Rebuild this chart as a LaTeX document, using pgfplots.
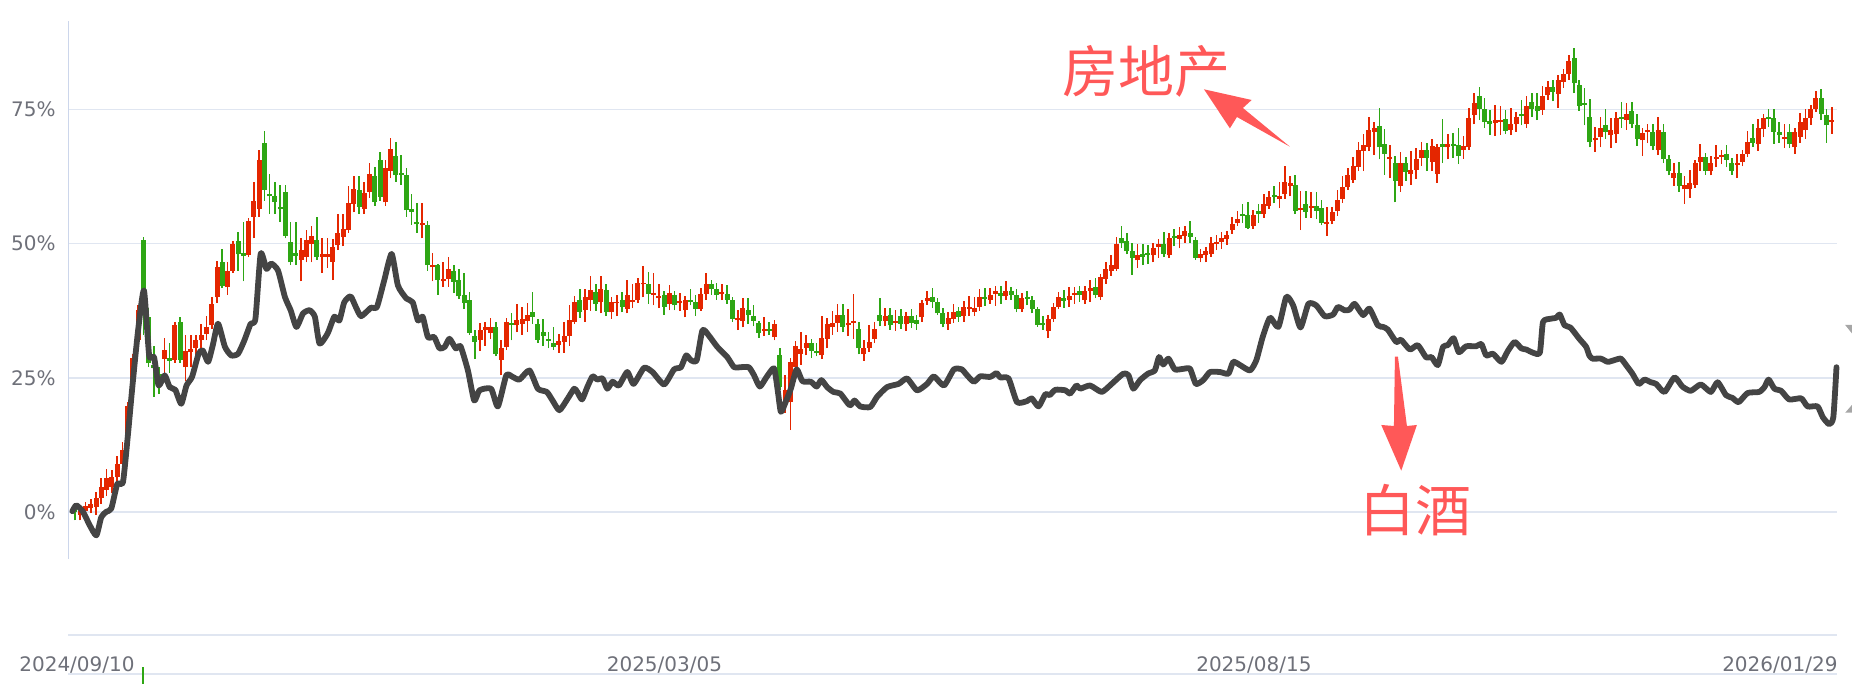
\documentclass[border=0pt]{standalone}
\usepackage{pgfplots}
\pgfplotsset{compat=1.18}
\usepackage{pgfplotstable}
\usepackage{fontspec}
\setmainfont{DejaVu Sans}
\newfontfamily\cjk{Noto Sans CJK SC}
\definecolor{upc}{RGB}{228,38,0}
\definecolor{dnc}{RGB}{46,166,20}
\definecolor{lnc}{RGB}{68,68,68}
\definecolor{gridc}{RGB}{224,230,241}
\definecolor{labc}{RGB}{110,112,121}
\definecolor{annc}{RGB}{255,88,88}
\definecolor{axc}{RGB}{204,214,235}

% candles: day index, body low/high, wick low/high (%)
\pgfplotstableread{
k lo hi wl wh
1 -0.5 0.3 -1.5 1.2
2 0.3 1.2 -0.5 2
3 0.8 1.6 -0.2 2.5
4 1.0 2.7 -0.5 3.7
5 2.6 4.7 1.5 6.3
6 4.2 6.3 3 8
7 4.7 6.5 3.5 7.8
8 6.5 9.0 5.6 10.5
9 9.0 11.6 8.5 13
10 14 19.8 11.5 20.5
11 23.9 28.7 23 29.5
12 32 37.6 31 38.5
17 28.5 30.2 26 32.5
19 28.3 34.8 27.8 35.5
21 27 30 24.5 33
22 29.8 30.3 27 33
23 30.5 32 28.5 33
24 32 33 30 35
25 33.2 34.5 32 36.5
26 34.8 38.8 34.2 40
27 40 45.7 39 46.8
29 41.9 45 40.5 46.5
30 45 49.9 44.5 50.5
33 47.8 54.3 47.5 54.8
34 55 58 51 61.5
35 56.5 65.5 55 67.5
43 47 48.8 43 51
44 47.5 50.7 46.5 52.5
45 50 51.4 46.5 53.2
47 47.5 48 44.5 51
48 47.5 48.1 45.5 51
49 46.6 49.4 43.2 50.8
50 49.7 52 48.8 55.5
51 51.2 52.8 49.5 55.5
52 52.5 57.6 52 60.8
53 57.4 60.2 55.8 62.5
55 56.5 59.5 55.5 61.5
56 59.6 62.9 58.5 65
59 57.7 64.1 57 65.6
60 63.6 67.7 62.2 69.7
66 53.4 53.8 51 57.5
68 45.6 46 43 48.2
70 43 43.5 42 46.5
71 43.5 45.2 42 47.5
77 32.1 33.9 30 35.2
78 34 34.5 31 35.5
79 33.4 34.4 32.2 36.2
81 28.3 30.5 25.5 32
82 30.8 35.4 30.2 36.1
84 34.8 35.7 33.5 38.8
85 35 36 33 38.2
86 35.6 36.8 33.6 39
92 31.1 31.9 29.7 33.2
93 31.7 32.8 29.7 35.5
94 32.8 35.7 31 38.5
95 35.4 39.1 35 40.3
97 37.6 40 35.5 41.5
98 39.5 41.3 37.5 44
100 39.1 41.6 37 44
102 37.2 39.1 36 40
103 38.9 39.1 36.5 40.5
105 37.9 40.4 37 43.2
106 39.1 39.5 38 42.5
107 39.5 42.7 39 43.6
108 42.4 42.7 40 45.8
110 40.4 40.8 38.5 44.5
111 39.8 40.2 38 42.5
113 38.8 40.9 37.6 42.3
115 38.9 39.3 37.5 40.8
116 37.6 39.6 36.3 40.2
119 37.9 40.7 37.5 41.8
120 40.7 42.4 39.5 44.5
123 40.6 41 39.5 42.5
126 35.7 36.1 33.9 37.6
127 35.6 38.1 34.4 39.8
131 33.8 34.2 32.8 36.4
133 32.6 35.1 32 35.8
135 20.5 22.7 18.5 25.5
136 20.5 28 15.3 28.8
137 27 30.9 26.5 31.8
138 29.5 30.3 27.5 33.5
139 30.6 31.5 29.2 33
142 29.2 32.5 28.5 36.5
143 32.3 35.1 30.5 36.2
144 34.4 35.2 33 37.5
145 35.2 36.8 33.6 38.8
147 34.8 35.2 32.8 37.9
148 35.2 35.6 32.2 40.6
150 29.4 30.6 28.2 32
151 30.6 31.7 29.8 34.8
152 32.3 34.2 31.5 35.5
154 35.6 36.5 34.6 38.1
156 35.2 35.6 33.8 37.6
158 35 36.5 33.8 37.3
161 36.3 39 35.5 39.6
162 39.4 39.8 38.6 41.1
166 35 36.1 34 37.3
167 36 37.3 35.2 38.8
169 36.5 38.3 35.5 39.3
170 37.9 38.3 36.5 40.2
171 37.3 38.1 36.5 40
172 38.2 40 37.5 41.6
174 39.6 40.4 38.8 41.7
175 40.7 41.1 38.4 42.2
177 40.2 41.2 39.5 43
180 37.8 39.9 37.3 40.9
185 33.7 36 32.4 36.8
186 35.9 38.3 35.5 38.9
187 38.2 40 37.8 41
189 39.5 40.2 38.3 42
190 40.4 40.8 38.8 42
192 39.5 41.2 38.8 42.2
193 41.2 41.8 39.2 43.3
195 40.1 43.7 39.5 44.4
196 43.5 45.2 42.5 46.5
197 45 46 44 47.8
198 45.3 49.9 45 51.3
202 46.9 47.8 45.5 49.9
205 47.8 49.1 46.5 50.1
206 49.4 49.9 47.4 50.8
208 47.8 51.1 47.3 52
210 50.9 51.6 49.1 53.1
211 51.4 52.4 50.2 53.3
214 47.4 48 46.5 49
215 47.8 48.6 46.5 49.4
216 48.1 50.1 47.5 51.2
217 49.9 50.4 48.8 51.6
218 50.3 51.1 49 52.1
219 50.9 51.7 49.8 52.3
220 52.5 53.6 51.8 55
221 53.8 54.6 53.3 56.1
224 53.2 55.3 52.8 56.2
226 55.6 57.3 54.8 59.3
227 57.1 58.6 56.5 59.8
229 58.4 58.8 56.6 61.5
230 59.2 61.5 58.4 64.5
231 60.8 61.2 58.8 62.5
233 56.2 56.6 52.5 59.8
235 56.6 57 54.8 59.6
238 53.6 54 51.5 56.9
239 54.3 55.9 53.6 56.9
240 56.1 58.2 55.2 60
241 58.4 60.5 57.6 62.5
242 60.5 62.8 60 64
243 61.9 64.4 61.3 66.2
244 64.3 67.4 63.5 69
245 67.2 68.3 63.5 70.4
246 68 71.2 67.2 73.5
247 70.8 71.6 66.5 72.7
250 65.7 66.1 62.2 68.3
252 60.7 65.1 59.7 67
254 63 63.8 61 67.2
255 63.8 65.8 62 67.8
256 65.9 67.4 64.5 69
258 65.2 68.1 63.5 69.4
259 63 67.9 61.3 68.5
261 67.9 68.6 65.7 70.5
264 67.4 68.2 65.8 70
265 67.9 73.3 67.5 75.3
266 73.9 76.2 72.2 78
270 72.5 73 70 75.8
271 72.6 73 70.2 75.6
273 71.2 72.2 70.2 75.2
274 72.2 73.6 70.8 74.5
276 72.3 75.7 71.5 77.5
279 74.8 77.4 74 79.3
280 77.6 79.2 76.8 80.3
282 77.9 80.4 75.3 81.3
283 80.1 81.5 79 82.6
284 81.5 84 80.5 85.2
289 69.2 69.6 67.1 71.8
290 69.9 71.6 67.9 73.5
292 70.2 71.1 67.8 73.3
293 70.5 73.3 68.7 74.5
295 73 74.2 71.2 76.2
298 69.2 70.6 66.3 71.6
299 70.8 71.2 68.7 72.3
301 67.5 71.1 66.5 73.6
304 62.3 63.2 60.8 65
306 60.1 60.9 57.4 62.5
307 60.1 61.3 58.5 63.7
308 61 65.1 60.4 65.5
309 65.2 66.1 63.6 68.5
311 63.6 65.1 62.7 66.3
312 65.8 66.2 64.2 68.4
313 66.1 66.5 64.8 67.4
316 64.7 65.1 62.2 66.7
317 65.2 66.7 64.4 67.5
318 66.7 69 66.2 70.9
320 68.5 71.6 67.3 73.2
321 71.4 73.3 69.8 74.2
325 69.5 69.9 67.8 72.2
327 67.9 70.8 66.7 71.6
328 69.9 72.7 68.7 74.3
329 71.1 73.3 69.5 75.1
330 73.3 75.1 72.1 75.8
331 75.1 77.2 74.5 78.4
334 72.6 73 70.5 75.5
}\upT

\pgfplotstableread{
k lo hi wl wh
0 0 0.8 -1.5 1.5
13 41.3 50.6 33 51.3
14 27.7 36.4 27 38
15 26.8 27.5 21.5 31
16 24.5 25.8 22 27
18 28.2 28.8 26 31.5
20 28.3 35.4 27.8 36.3
28 42.2 46.6 41.7 49
31 48 50.5 45 52.2
32 47.7 48.3 43 54
36 60 68.7 58 71
37 58.8 59.2 55.5 63
38 57.8 58.9 55.5 61.5
39 56.4 56.9 54 61
40 51.5 59.6 51 61
41 46.5 50.3 46 54
42 47.7 48.3 46 54
46 47.5 50.7 47 55
54 56.8 60 55.5 62.5
57 57.8 62.5 57 64.3
58 58.7 65.5 58 67
61 62.7 66.4 61.5 69
62 62.8 63.2 61 66.5
63 56.2 62.8 55 64
64 55.9 56.5 53.5 59.3
65 53.6 54 52 57.5
67 46 53.4 45 54.2
69 43.2 46 40.5 46.3
72 42.9 44.9 40.8 46
73 40.2 43.3 39.7 45.2
74 39 40.4 37.8 44.5
75 33.4 39.5 33 41
76 31.7 32.9 28.5 34
80 29.5 34.5 29 35.5
83 34.8 35.2 32 37
87 36.4 37.2 35 41
88 32.1 35.1 31.5 36
89 32.8 33.6 31 36
90 31.9 32.3 30.5 33.5
91 30.8 31.5 30.2 34.5
96 37.3 39.6 36.2 41.5
99 38.8 41 37.5 42.5
101 37.2 41.3 36.5 42.5
104 38.2 39.6 37.2 41
109 40.6 42.4 38.8 44.8
112 38.3 40.4 36.8 41.2
114 38.5 40.4 37.6 41.2
117 39.1 39.6 38.5 41.5
118 37.9 39.1 36.5 40.5
121 41.5 42.4 40.5 43.3
122 40.5 41.6 39.6 42.6
124 39.5 40.7 38.8 42.3
125 36 39.5 35.5 40
128 36.7 37.7 35 39.8
129 35.6 36.5 34.6 38.5
130 33.4 35.2 32.5 35.6
132 33.8 34.2 33 35.5
134 23.3 29.2 22.8 30.6
140 30 31.5 28.8 32.3
141 29.6 30.1 29 31.5
146 34.5 36.8 33.5 38.8
149 30.5 34.2 29.4 35.5
153 35.6 36.8 34.6 39.8
155 34.8 36.8 34 38
157 35.1 36.5 34.2 37.8
159 35.2 36.5 34.3 37.8
160 35 35.7 34 36.8
163 39.1 40.1 38 41.7
164 37 39.1 36.8 39.8
165 35 37.1 34.4 38
168 36.4 37.5 35.5 38.3
173 39.7 40.1 38.4 41.7
176 40.3 40.9 38.8 42.2
178 40.4 41.2 39.6 41.9
179 37.8 40.4 37.2 41.5
181 39.7 40.1 38.5 41.1
182 37.8 39.6 37 40.2
183 34.9 37.8 34.5 38.2
184 34.8 35.2 34 36.5
188 39.4 39.8 38 41.3
191 40.4 41.2 39.2 42.2
194 40.4 41.9 39.8 43.6
199 50.2 51 49.2 53.3
200 48.6 50.5 48 52
201 47.4 48.6 44.2 50.1
203 47.6 48 46 49.9
204 47.9 48.3 46.2 49.7
207 48.1 49.9 47.5 52.2
209 51 51.4 49.5 52.8
212 51.2 52 50.2 54.2
213 47.4 50.7 47 51.2
222 55.1 55.5 53.8 57.4
223 53 55.3 52.7 57.7
225 55.6 56 53.9 57.4
228 58.7 59.1 57.5 60.8
232 56.1 60.9 55.5 62.8
234 55.9 57.4 54.8 59.8
236 56.1 57 54.5 59.6
237 53.8 56.7 53.4 58.2
248 67.9 71.9 65.7 75.2
249 66.7 68.6 62.8 71.3
251 61.7 65.1 57.7 66.3
253 63.3 65.1 61.7 66.2
257 66 67.4 63.5 68.7
260 67.9 68.6 65 73.2
262 68.2 68.6 66 70.6
263 66.3 68.3 64.8 71.5
267 75.1 77.4 73 79.2
268 72.6 75.1 71.5 77.2
269 72.2 72.9 70.2 74.8
272 71 73.2 70.4 74.8
275 73.7 74.2 72 76.8
277 75.1 76.4 73.6 78
278 74.7 75.6 73 78
281 78.2 79.2 76.5 80.5
285 79.9 84.6 78 86.5
286 75.7 79.5 74.7 80.5
287 75.8 76.2 72 79
288 68.9 73.5 67.9 76.9
291 70.8 72 69.5 75.1
294 73.2 73.6 71.5 76.4
296 72.2 74.6 71.5 76.3
297 69.5 72 68.2 74.1
300 68.2 70.8 67.4 72.2
302 65.7 70.8 65 72.3
303 63.5 65.7 62.7 66.5
305 60.7 63.2 59.7 65.2
310 63.6 66.1 62.8 66.8
314 65.6 66.7 64.2 68.4
315 63.6 65.1 62.8 66
319 68.8 69.7 68 72.3
322 73.2 73.6 71.8 75.1
323 70.8 73.3 68.6 75.1
324 70.2 70.8 68.8 72.6
326 68.5 70.8 67.8 72.2
332 74.1 77.2 73 78.8
333 72 73.9 68.8 75.1
}\dnT

% baijiu line
\pgfplotstableread{
k v
-0.5 0.2
0.25 1.3
1.52 0.1
2.79 -2.4
4.06 -4.3
5.0 -0.9
5.96 0.1
6.9 0.7
8.05 5.3
9.12 5.6
10.08 14.6
10.9 23.3
12.0 33.9
13.11 41.3
14.1 29.2
15.02 28.9
15.9 23.6
17.05 25.5
18.0 23.3
19.07 22.8
20.2 20.2
21.2 23.6
22.25 25.2
23.5 29.5
24.3 30.1
25.3 28.0
26.2 31.1
27.2 35.1
28.5 30.8
29.7 29.2
31.0 29.5
32.2 32.0
33.4 35.1
34.3 36.0
35.3 48.1
36.4 45.3
37.3 46.3
38.6 45.0
39.9 40.1
41.0 37.6
42.1 34.5
43.35 37.0
44.6 37.6
45.6 36.4
46.5 31.4
48.04 33.3
49.3 36.4
50.26 35.7
51.2 39.1
52.4 40.2
53.4 38.2
54.4 36.5
56.3 38.1
57.4 38.2
58.8 43.2
60.2 48.1
61.4 42.2
63.0 39.8
64.2 39.1
65.2 35.7
66.1 36.4
67.1 32.6
68.3 32.6
69.3 30.5
70.3 30.8
71.2 32.3
72.4 30.5
73.3 30.9
74.7 26.4
75.9 20.8
76.9 22.7
79.1 23.0
80.4 19.7
82.0 25.5
83.2 25.2
84.5 24.7
86.4 26.4
88.0 23.0
89.7 22.4
90.8 20.8
92.1 19.0
93.7 21.2
94.9 23.0
95.5 22.4
96.4 21.0
97.4 23.3
98.4 25.3
99.3 24.7
100.3 24.9
101.2 23.0
102.2 24.3
103.4 23.6
105.0 26.1
106.2 23.9
108.2 26.9
109.8 26.1
112.0 23.8
113.9 26.6
115.2 27.0
116.2 29.2
117.1 28.3
118.2 28.3
119.3 33.9
120.5 32.9
122.1 30.8
124.0 28.9
125.3 27.0
126.5 27.0
128.1 27.0
129.1 25.5
130.2 23.4
131.5 25.2
132.9 26.8
133.6 22.7
134.2 18.7
135.1 20.5
136.1 23.0
137.2 26.6
138.3 24.4
139.9 24.3
141.0 23.4
141.9 24.6
143.0 23.3
144.2 22.4
145.5 22.1
147.3 19.9
148.2 20.8
149.3 19.7
151.2 19.6
152.5 21.5
154.4 23.3
156.6 23.9
158.2 24.9
160.1 22.7
162.0 23.9
163.3 25.3
165.2 23.6
167.1 26.6
168.6 26.6
169.6 25.5
170.9 24.3
172.1 25.3
174.0 25.2
175.2 25.9
175.9 25.1
177.5 24.9
179.1 20.5
181.0 20.7
181.9 21.2
183.2 19.7
184.5 22.0
185.3 21.8
186.4 22.8
188.3 22.7
189.2 22.1
190.4 23.6
191.1 23.0
193.0 23.6
195.2 22.4
197.1 23.9
199.3 25.8
200.3 25.5
201.2 23.0
202.5 24.6
204.0 25.8
205.3 26.4
206.1 28.9
206.9 27.5
207.9 28.6
209.1 26.6
210.7 26.7
212.0 26.7
213.1 23.9
214.5 24.6
215.8 26.1
217.7 26.1
219.3 25.8
220.2 28.0
221.5 27.4
223.4 26.4
224.6 28.3
225.8 32.6
227.2 36.2
228.8 34.5
230.3 40.1
231.6 38.5
233.0 34.4
234.5 38.8
236.0 38.5
237.6 36.5
239.2 36.8
240.1 38.2
241.4 37.6
242.3 37.7
243.3 38.8
244.9 36.7
246.1 37.9
247.7 34.8
248.7 34.5
249.6 34.0
251.2 31.7
252.1 32.1
253.8 30.3
255.3 31.1
256.9 28.8
257.9 28.9
259.1 27.4
260.1 30.8
261.0 31.1
262.1 32.4
263.1 29.8
264.5 30.9
266.4 30.9
267.4 31.3
268.3 29.2
269.6 29.5
271.2 28.0
272.4 30.0
273.7 31.7
275.0 30.5
275.9 30.3
277.2 29.7
278.5 29.7
279.1 35.4
280.4 36.0
281.6 36.2
282.3 36.8
283.2 34.8
284.3 34.4
286.0 32.3
287.3 30.8
287.9 29.2
288.5 28.6
290.1 28.6
291.4 28.0
292.6 28.3
293.9 28.6
294.9 27.4
296.1 25.8
297.3 23.9
298.4 24.7
299.6 24.2
300.6 23.9
302.2 22.4
304.1 25.1
305.6 23.4
307.2 22.6
309.1 23.8
311.0 22.4
312.3 24.2
313.9 21.8
315.1 21.3
316.3 20.5
318.0 22.2
320.2 22.4
321.2 23.3
322.0 24.7
323.1 23.0
324.4 22.6
325.9 21.0
328.2 21.2
329.4 19.7
331.3 19.7
332.3 17.7
333.5 16.4
334.3 17.7
334.9 27.0
}\lineT

\begin{document}
\begin{tikzpicture}
\begin{axis}[
    name=ax, at={(0,0)}, anchor=south west,
    scale only axis, width=884.25pt, height=342pt,
    xmin=-1.236, xmax=335.0, ymin=-31.96, ymax=95.35,
    axis line style={draw=none},
    xtick=\empty,
    ytick={0,25,50,75},
    yticklabels={0\%,25\%,50\%,75\%},
    yticklabel style={font=\fontsize{10}{12}\selectfont, text=labc, anchor=east, inner sep=0pt, xshift=-6.25pt},
    major tick length=0pt,
    ymajorgrids, grid style={gridc, line width=0.8pt},
    extra y ticks={-22.84,-30.1}, extra y tick labels={},
    extra y tick style={grid=major},
    clip=false,
]
% y axis line
\draw[axc, line width=0.8pt] (axis cs:-1.236,91.44) -- (axis cs:-1.236,-8.69);

% wicks
\addplot[draw=none, forget plot, error bars/.cd, y dir=plus, y explicit, error mark=none,
    error bar style={draw=upc, line width=0.8pt}]
    table[x=k, y=wl, y error expr=\thisrow{wh}-\thisrow{wl}] {\upT};
\addplot[draw=none, forget plot, error bars/.cd, y dir=plus, y explicit, error mark=none,
    error bar style={draw=dnc, line width=0.8pt}]
    table[x=k, y=wl, y error expr=\thisrow{wh}-\thisrow{wl}] {\dnT};
% bodies
\addplot[draw=none, forget plot, error bars/.cd, y dir=plus, y explicit, error mark=none,
    error bar style={draw=upc, line width=2.5pt}]
    table[x=k, y=lo, y error expr=\thisrow{hi}-\thisrow{lo}] {\upT};
\addplot[draw=none, forget plot, error bars/.cd, y dir=plus, y explicit, error mark=none,
    error bar style={draw=dnc, line width=2.5pt}]
    table[x=k, y=lo, y error expr=\thisrow{hi}-\thisrow{lo}] {\dnT};
% volume bar peeking out at the bottom
\addplot[draw=none, forget plot, error bars/.cd, y dir=plus, y explicit, error mark=none,
    error bar style={draw=dnc, line width=1pt}]
    coordinates {(13,-31.96) +- (0,3.2)};

% baijiu
\addplot[lnc, line width=2.9pt, smooth, tension=0.35, line join=round, line cap=round]
    table[x=k, y=v] {\lineT};

% x labels
\node[font=\fontsize{10}{12}\selectfont, text=labc, inner sep=0pt] at (axis cs:0.38,-28.42) {2024/09/10};
\node[font=\fontsize{10}{12}\selectfont, text=labc, inner sep=0pt] at (axis cs:112.07,-28.42) {2025/03/05};
\node[font=\fontsize{10}{12}\selectfont, text=labc, inner sep=0pt] at (axis cs:224.14,-28.42) {2025/08/15};
\node[font=\fontsize{10}{12}\selectfont, text=labc, inner sep=0pt] at (axis cs:324.14,-28.42) {2026/01/29};

% annotations
\node[font=\cjk\fontsize{28}{30}\selectfont, text=annc, inner sep=0pt] at (axis cs:203.7,82.0) {房地产};
\fill[annc] (axis cs:214.64,78.73) -- (axis cs:223.71,76.74) -- (axis cs:222.05,75.25)
    -- (axis cs:230.99,68.04) -- (axis cs:220.91,73.58) -- (axis cs:219.58,71.47) -- cycle;
\node[font=\cjk\fontsize{28}{30}\selectfont, text=annc, inner sep=0pt] at (axis cs:254.85,0.33) {白酒};
\fill[annc] (axis cs:250.95,28.96) -- (axis cs:251.52,28.96) -- (axis cs:253.23,16.06)
    -- (axis cs:255.13,16.25) -- (axis cs:252.15,7.74) -- (axis cs:248.35,16.25)
    -- (axis cs:250.76,16.06) -- cycle;

% zoom handles at the right edge
\fill[black!35] (axis cs:336.56,34.86) -- (axis cs:337.83,34.86) -- (axis cs:337.83,33.31) -- cycle;
\fill[black!35] (axis cs:336.56,18.54) -- (axis cs:337.83,19.97) -- (axis cs:337.83,18.54) -- cycle;
\end{axis}
\pgfresetboundingbox
\path[use as bounding box] (-34.25pt,0pt) rectangle (891.75pt,342pt);
\end{tikzpicture}
\end{document}
